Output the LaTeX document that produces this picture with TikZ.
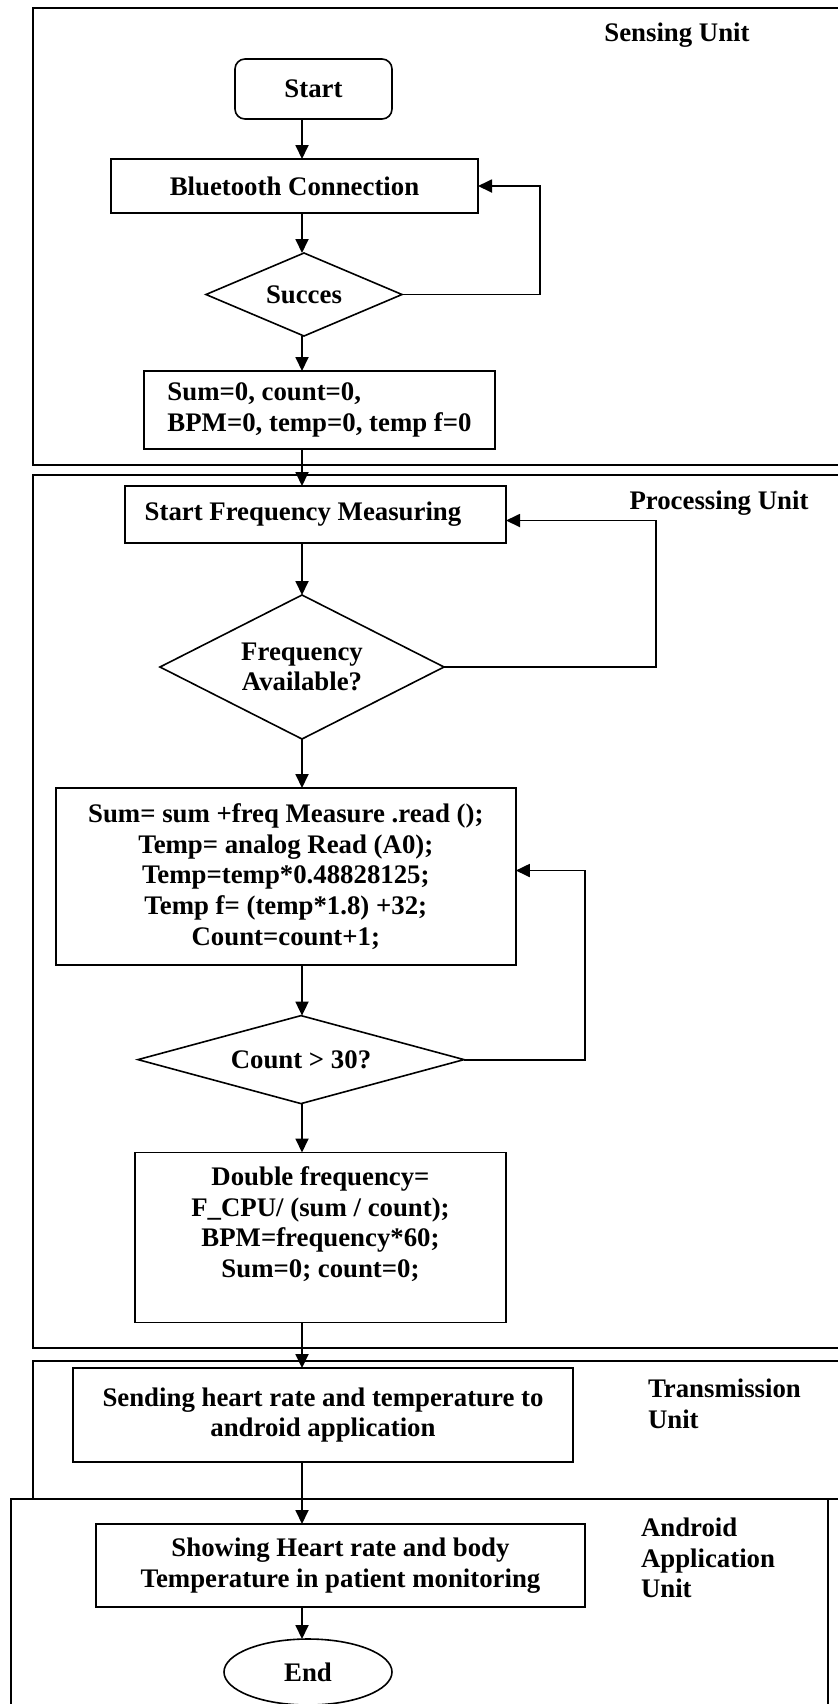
\documentclass[tikz,border=0pt]{standalone}
\usepackage{fontspec}
\setmainfont{Liberation Serif}
\usetikzlibrary{positioning,shapes.geometric,arrows.meta}

\begin{document}
\begin{tikzpicture}
[every node/.style={font=\bfseries\fontsize{13.4}{15.3}\selectfont,inner sep=0pt,outer sep=0pt},
 procbox/.style={rectangle,draw=black,thick,align=center},
 startbox/.style={procbox,rounded corners=5pt},
 decision/.style={diamond,draw=black,thick,aspect=2,align=center},
 endbox/.style={ellipse,draw=black,thick},
 unitbox/.style={draw=black,line width=1pt},
 unitlabel/.style={align=left},
 arr/.style={line width=0.9pt,-{Triangle[length=7pt,width=6.5pt]}},
 thick]
\useasboundingbox (0,0) rectangle (419pt,-852pt);
\clip (0,0) rectangle (419pt,-852pt);
% unit frames
\draw[unitbox] (16.5pt,-4pt)     rectangle (430pt,-232.5pt);
\draw[unitbox] (16.5pt,-237.5pt) rectangle (430pt,-674pt);
\draw[unitbox] (16.5pt,-680.5pt) rectangle (430pt,-749.5pt);
\draw[unitbox] (5.5pt,-749.5pt)  rectangle (414pt,-870pt);
\node[unitlabel] (lsens) at (338.5pt,-17.5pt) {Sensing Unit};
\node[unitlabel] (lproc) at (359.5pt,-251.5pt) {Processing Unit};
\node[unitlabel,anchor=west] (ltrans) at (324pt,-702pt) {Transmission\\Unit};
\node[unitlabel,anchor=west] (landr) at (320.5pt,-779pt) {Android\\Application\\Unit};
% flow
\node[startbox,minimum width=78.5pt,minimum height=30pt] (start) at (156.75pt,-44.5pt) {Start};
\node[procbox,minimum width=183.5pt,minimum height=27pt] (bt)     [on grid,below left=48.5pt and 9.5pt of start]  {Bluetooth Connection};
\node[decision,minimum width=98pt,minimum height=41.5pt] (succ)   [on grid,below right=54.25pt and 4.75pt of bt]  {Succes};
\node[procbox,align=left,minimum width=175.5pt,minimum height=39pt] (init) [on grid,below right=57.75pt and 7.75pt of succ] {Sum=0, count=0,\\BPM=0, temp=0, temp f=0};
\node[procbox,minimum width=190.5pt,minimum height=28.5pt] (sfm)  [on grid,below left=52.25pt and 2pt of init]    {Start Frequency Measuring\hspace*{12.5pt}};
\node[decision,minimum width=142pt,minimum height=72pt] (favail)  [on grid,below left=76.25pt and 6.75pt of sfm]  {Frequency\\Available?};
\node[procbox,minimum width=230pt,minimum height=88.5pt] (sum)    [on grid,below left=104.75pt and 8.1pt of favail] {Sum= sum +freq Measure .read ();\\Temp= analog Read (A0);\\Temp=temp*0.48828125;\\Temp f= (temp*1.8) +32;\\Count=count+1;};
\node[decision,aspect=4,minimum width=163pt,minimum height=44pt] (cnt) [on grid,below right=91.55pt and 7.6pt of sum] {Count > 30?};
\node[procbox,minimum width=185.5pt,minimum height=85pt] (dbl)    [on grid,below right=88.95pt and 9.75pt of cnt] {Double frequency=\\F\_CPU/ (sum / count);\\BPM=frequency*60;\\Sum=0; count=0;\\ \mbox{}};
\node[procbox,minimum width=250pt,minimum height=47pt] (send)     [on grid,below right=88.75pt and 1.25pt of dbl] {Sending heart rate and temperature to\\android application};
\node[procbox,minimum width=244.5pt,minimum height=41.5pt] (show) [on grid,below right=75.25pt and 8.75pt of send] {Showing Heart rate and body\\Temperature in patient monitoring};
\node[endbox,minimum width=84pt,minimum height=33pt] (endn)       [on grid,below left=53.25pt and 16.25pt of show] {End};
% connectors
\coordinate (spine) at (151pt,0);
\coordinate (loopA) at (270pt,0);
\coordinate (loopB) at (328pt,0);
\coordinate (loopC) at (292.5pt,0);
\draw[arr] (start.south -| spine) -- (bt.north -| spine);
\draw[arr] (bt.south -| spine)    -- (succ.north -| spine);
\draw[arr] (succ.south -| spine)  -- (init.north -| spine);
\draw[arr] (init.south -| spine)  -- (sfm.north -| spine);
\draw[arr] (sfm.south -| spine)   -- (favail.north -| spine);
\draw[arr] (favail.south -| spine) -- (sum.north -| spine);
\draw[arr] (sum.south -| spine)   -- (cnt.north -| spine);
\draw[arr] (cnt.south -| spine)   -- (dbl.north -| spine);
\draw[arr] (dbl.south -| spine)   -- (send.north -| spine);
\draw[arr] (send.south -| spine)  -- (show.north -| spine);
\draw[arr] (show.south -| spine)  -- (endn.north -| spine);
\draw[arr] (succ.east)   -| (loopA |- bt.east) -- (bt.east);
\draw[arr] (favail.east) -| ([yshift=-3pt]loopB |- sfm.east) -- ([yshift=-3pt]sfm.east);
\draw[arr] (cnt.east)    -| ([yshift=3pt]loopC |- sum.east) -- ([yshift=3pt]sum.east);
\end{tikzpicture}
\end{document}
